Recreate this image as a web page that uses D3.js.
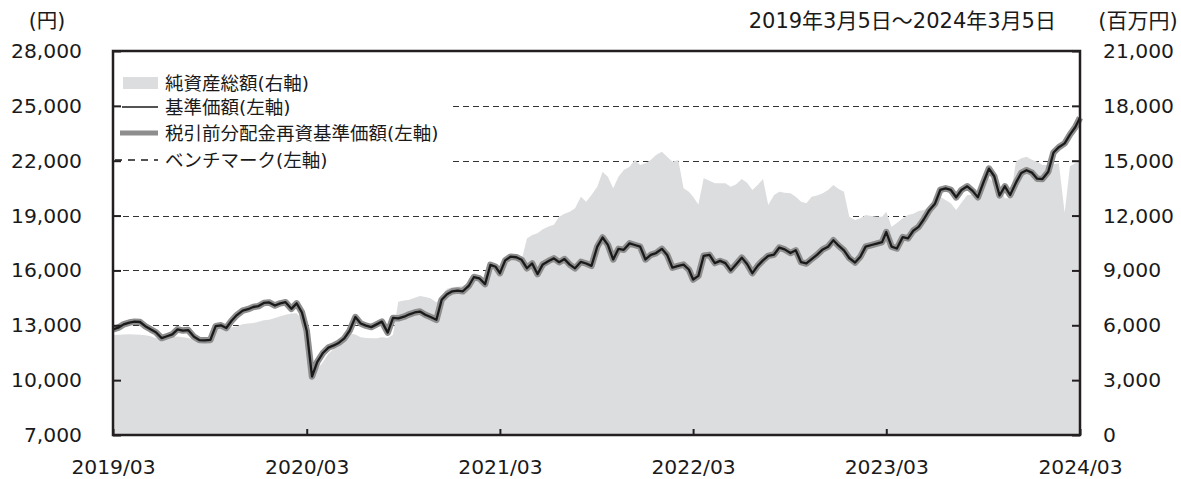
<!DOCTYPE html>
<html>
<head>
<meta charset="utf-8">
<script src="https://cdn.jsdelivr.net/npm/d3@7"></script>
<style>
  html, body { margin: 0; padding: 0; background: #fff; }
  svg text { font-family: "DejaVu Sans", "Noto Sans CJK JP", sans-serif; fill: #1a1a1a; }
</style>
</head>
<body>
<div id="chart"></div>
<script>
// sampling dates (5th / 15th / 25th of each month)
const dates = [
  '2019-03-05','2019-03-15','2019-03-25','2019-04-05','2019-04-15','2019-04-25','2019-05-05','2019-05-15','2019-05-25','2019-06-05',
  '2019-06-15','2019-06-25','2019-07-05','2019-07-15','2019-07-25','2019-08-05','2019-08-15','2019-08-25','2019-09-05','2019-09-15',
  '2019-09-25','2019-10-05','2019-10-15','2019-10-25','2019-11-05','2019-11-15','2019-11-25','2019-12-05','2019-12-15','2019-12-25',
  '2020-01-05','2020-01-15','2020-01-25','2020-02-05','2020-02-15','2020-02-25','2020-03-05','2020-03-15','2020-03-25','2020-04-05',
  '2020-04-15','2020-04-25','2020-05-05','2020-05-15','2020-05-25','2020-06-05','2020-06-15','2020-06-25','2020-07-05','2020-07-15',
  '2020-07-25','2020-08-05','2020-08-15','2020-08-25','2020-09-05','2020-09-15','2020-09-25','2020-10-05','2020-10-15','2020-10-25',
  '2020-11-05','2020-11-15','2020-11-25','2020-12-05','2020-12-15','2020-12-25','2021-01-05','2021-01-15','2021-01-25','2021-02-05',
  '2021-02-15','2021-02-25','2021-03-05','2021-03-15','2021-03-25','2021-04-05','2021-04-15','2021-04-25','2021-05-05','2021-05-15',
  '2021-05-25','2021-06-05','2021-06-15','2021-06-25','2021-07-05','2021-07-15','2021-07-25','2021-08-05','2021-08-15','2021-08-25',
  '2021-09-05','2021-09-15','2021-09-25','2021-10-05','2021-10-15','2021-10-25','2021-11-05','2021-11-15','2021-11-25','2021-12-05',
  '2021-12-15','2021-12-25','2022-01-05','2022-01-15','2022-01-25','2022-02-05','2022-02-15','2022-02-25','2022-03-05','2022-03-15',
  '2022-03-25','2022-04-05','2022-04-15','2022-04-25','2022-05-05','2022-05-15','2022-05-25','2022-06-05','2022-06-15','2022-06-25',
  '2022-07-05','2022-07-15','2022-07-25','2022-08-05','2022-08-15','2022-08-25','2022-09-05','2022-09-15','2022-09-25','2022-10-05',
  '2022-10-15','2022-10-25','2022-11-05','2022-11-15','2022-11-25','2022-12-05','2022-12-15','2022-12-25','2023-01-05','2023-01-15',
  '2023-01-25','2023-02-05','2023-02-15','2023-02-25','2023-03-05','2023-03-15','2023-03-25','2023-04-05','2023-04-15','2023-04-25',
  '2023-05-05','2023-05-15','2023-05-25','2023-06-05','2023-06-15','2023-06-25','2023-07-05','2023-07-15','2023-07-25','2023-08-05',
  '2023-08-15','2023-08-25','2023-09-05','2023-09-15','2023-09-25','2023-10-05','2023-10-15','2023-10-25','2023-11-05','2023-11-15',
  '2023-11-25','2023-12-05','2023-12-15','2023-12-25','2024-01-05','2024-01-15','2024-01-25','2024-02-05','2024-02-15','2024-02-25',
  '2024-03-05'
];

// 基準価額 (円, left axis)
const nav = [
  12780,12870,13050,13150,13200,13180,12950,12780,12620,12300,
  12400,12500,12780,12710,12740,12370,12190,12180,12200,12950,
  13000,12850,13250,13560,13800,13880,14000,14050,14220,14250,
  14080,14200,14260,13900,14200,13700,12700,10200,11000,11500,
  11780,11900,12050,12280,12700,13450,13100,12980,12900,13050,
  13200,12600,13400,13380,13470,13600,13700,13750,13580,13450,
  13300,14400,14700,14860,14900,14860,15150,15640,15570,15250,
  16300,16200,15850,16550,16750,16720,16580,16120,16380,15800,
  16330,16520,16660,16450,16620,16320,16115,16470,16380,16250,
  17300,17800,17400,16600,17180,17130,17480,17390,17300,16600,
  16850,16950,17180,16850,16150,16250,16320,16050,15500,15700,
  16800,16850,16400,16520,16400,16000,16330,16700,16350,15850,
  16250,16550,16800,16870,17250,17150,16950,17100,16450,16380,
  16620,16850,17150,17300,17650,17350,17100,16680,16430,16750,
  17300,17390,17470,17550,18100,17300,17200,17820,17750,18170,
  18380,18800,19280,19650,20400,20490,20400,20000,20400,20600,
  20350,20000,20850,21570,21150,20100,20600,20125,20800,21330,
  21480,21350,21020,21000,21400,22450,22740,22950,23430,23830,
  24350
];

// 税引前分配金再投資基準価額 (no distributions paid, so it sits on the NAV)
const navReinvested = nav.slice();

// 純資産総額 (百万円, right axis)
const netAssets = [
  5470,5480,5500,5510,5500,5480,5460,5400,5290,5300,
  5330,5360,5380,5350,5300,5200,5150,5100,5105,5750,
  5850,5880,5890,5950,6050,6100,6120,6200,6280,6300,
  6400,6500,6580,6650,6660,6300,5500,3050,3600,4000,
  4450,4700,4900,5200,5550,5500,5350,5300,5290,5290,
  5350,5300,5480,7290,7350,7400,7500,7600,7550,7480,
  7250,7600,8000,8080,8110,8150,8350,8750,8700,8550,
  9200,9200,8900,9450,9600,9600,9550,10750,10940,11030,
  11250,11400,11500,11940,12100,12210,12395,13030,12760,13125,
  13580,14400,14125,13490,14125,14490,14670,15040,14765,14855,
  15040,15310,15495,15220,14945,15040,13500,13300,13030,12600,
  14040,13900,13765,13765,13765,13580,13700,14000,13800,13400,
  13670,14000,12580,13125,13305,13250,13215,13030,12760,12670,
  13030,13100,13215,13400,13670,13450,13305,11940,11760,11850,
  12030,11975,11940,11940,12210,11390,11600,11850,12030,12100,
  12250,12305,12485,12800,13030,12850,12670,12305,12700,13125,
  13125,13125,13600,14040,13800,13580,12945,12945,14950,15130,
  15220,15050,14950,14765,14765,14800,14855,12150,14700,14855,
  14950
];

const leftTicks = [7000, 10000, 13000, 16000, 19000, 22000, 25000, 28000];
const rightTicks = [0, 3000, 6000, 9000, 12000, 15000, 18000, 21000];
const gridValues = [10000, 13000, 16000, 19000, 22000, 25000];
const xTicks = ['2019-03-05', '2020-03-05', '2021-03-05', '2022-03-05', '2023-03-05', '2024-03-05'];
const legendItems = ['純資産総額(右軸)', '基準価額(左軸)', '税引前分配金再資基準価額(左軸)', 'ベンチマーク(左軸)'];

const W = 1181, H = 479,
    margin = { top: 51, right: 101, bottom: 44, left: 113 },
    width = W - margin.left - margin.right,
    height = H - margin.top - margin.bottom,
    axisFont = '20.3px';

const parse = d3.timeParse('%Y-%m-%d');
const data = dates.map((d, i) => ({
  date: parse(d), nav: nav[i], re: navReinvested[i], assets: netAssets[i]
}));

const svg = d3.select('#chart').append('svg')
    .attr('width', W)
    .attr('height', H);

const g = svg.append('g')
    .attr('transform', `translate(${margin.left}, ${margin.top})`);

const x = d3.scaleTime()
    .domain([parse('2019-03-05'), parse('2024-03-05')])
    .range([0, width]);
const yLeft = d3.scaleLinear().domain([7000, 28000]).range([height, 0]);
const yRight = d3.scaleLinear().domain([0, 21000]).range([height, 0]);

// grid lines (under the area)
g.append('g')
  .selectAll('line')
  .data(gridValues)
  .enter()
  .append('line')
    .attr('x1', 0)
    .attr('x2', width)
    .attr('y1', d => Math.round(yLeft(d)) + 0.5)
    .attr('y2', d => Math.round(yLeft(d)) + 0.5)
    .attr('stroke', '#333')
    .attr('stroke-width', 1)
    .attr('stroke-dasharray', '6,4');

// net assets area
g.append('path')
  .datum(data)
  .attr('fill', '#dcdddf')
  .attr('d', d3.area()
    .x(d => x(d.date))
    .y0(height)
    .y1(d => yRight(d.assets)));

// reinvested NAV (thick gray) and NAV (black)
g.append('path')
  .datum(data)
  .attr('fill', 'none')
  .attr('stroke', '#8e8e8e')
  .attr('stroke-width', 6.5)
  .attr('stroke-linejoin', 'round')
  .attr('d', d3.line().x(d => x(d.date)).y(d => yLeft(d.re)));

g.append('path')
  .datum(data)
  .attr('fill', 'none')
  .attr('stroke', '#1a1a1a')
  .attr('stroke-width', 2.3)
  .attr('stroke-linejoin', 'round')
  .attr('d', d3.line().x(d => x(d.date)).y(d => yLeft(d.nav)));

// legend
const legend = g.append('g');
legend.append('rect')
  .attr('x', 1).attr('y', 16)
  .attr('width', 339).attr('height', 113)
  .attr('fill', '#fff');

const rowY = [32, 56, 82, 109];
legend.append('rect')
  .attr('x', 10).attr('y', rowY[0] - 6)
  .attr('width', 35).attr('height', 12)
  .attr('fill', '#dcdddf');
legend.append('line')
  .attr('x1', 9).attr('x2', 45)
  .attr('y1', rowY[1]).attr('y2', rowY[1])
  .attr('stroke', '#1a1a1a').attr('stroke-width', 1.3);
legend.append('line')
  .attr('x1', 7).attr('x2', 45)
  .attr('y1', rowY[2]).attr('y2', rowY[2])
  .attr('stroke', '#8e8e8e').attr('stroke-width', 5);
legend.append('line')
  .attr('x1', 2).attr('x2', 45)
  .attr('y1', rowY[3]).attr('y2', rowY[3])
  .attr('stroke', '#1a1a1a').attr('stroke-width', 1.5)
  .attr('stroke-dasharray', '7,6');

legend.selectAll('text')
  .data(legendItems)
  .enter()
  .append('text')
    .attr('x', 52)
    .attr('y', (d, i) => rowY[i] + 7)
    .attr('font-size', '18.5px')
    .text(d => d);

// frame
g.append('rect')
  .attr('width', width)
  .attr('height', height)
  .attr('fill', 'none')
  .attr('stroke', '#231f20')
  .attr('stroke-width', 2.5);

// left axis
g.append('g')
  .call(d3.axisLeft(yLeft).tickValues(leftTicks).tickSizeInner(-8).tickSizeOuter(0).tickPadding(31).tickFormat(d3.format(',')))
  .call(a => a.select('.domain').remove())
  .call(a => a.selectAll('line').attr('stroke', '#231f20').attr('stroke-width', 2))
  .call(a => a.selectAll('text').attr('font-size', axisFont).attr('fill', '#1a1a1a').attr('font-family', null));

// right axis
g.append('g')
  .attr('transform', `translate(${width}, 0)`)
  .call(d3.axisRight(yRight).tickValues(rightTicks).tickSizeInner(-8).tickSizeOuter(0).tickPadding(23).tickFormat(d3.format(',')))
  .call(a => a.select('.domain').remove())
  .call(a => a.selectAll('line').attr('stroke', '#231f20').attr('stroke-width', 2))
  .call(a => a.selectAll('text').attr('font-size', axisFont).attr('fill', '#1a1a1a').attr('font-family', null));

// bottom axis
g.append('g')
  .attr('transform', `translate(0, ${height})`)
  .call(d3.axisBottom(x).tickValues(xTicks.map(parse)).tickSizeInner(-6).tickSizeOuter(0).tickPadding(25).tickFormat(d3.timeFormat('%Y/%m')))
  .call(a => a.select('.domain').remove())
  .call(a => a.selectAll('line').attr('stroke', '#231f20').attr('stroke-width', 2))
  .call(a => a.selectAll('text').attr('font-size', axisFont).attr('fill', '#1a1a1a').attr('font-family', null));

// headers
svg.append('text')
  .attr('x', 47).attr('y', 28)
  .attr('text-anchor', 'middle')
  .attr('font-size', '20.5px')
  .text('(円)');
svg.append('text')
  .attr('x', 1138).attr('y', 28)
  .attr('text-anchor', 'middle')
  .attr('font-size', '21px')
  .text('(百万円)');
svg.append('text')
  .attr('x', 1056).attr('y', 28)
  .attr('text-anchor', 'end')
  .attr('font-size', '21px')
  .text('2019年3月5日～2024年3月5日');
</script>
</body>
</html>
